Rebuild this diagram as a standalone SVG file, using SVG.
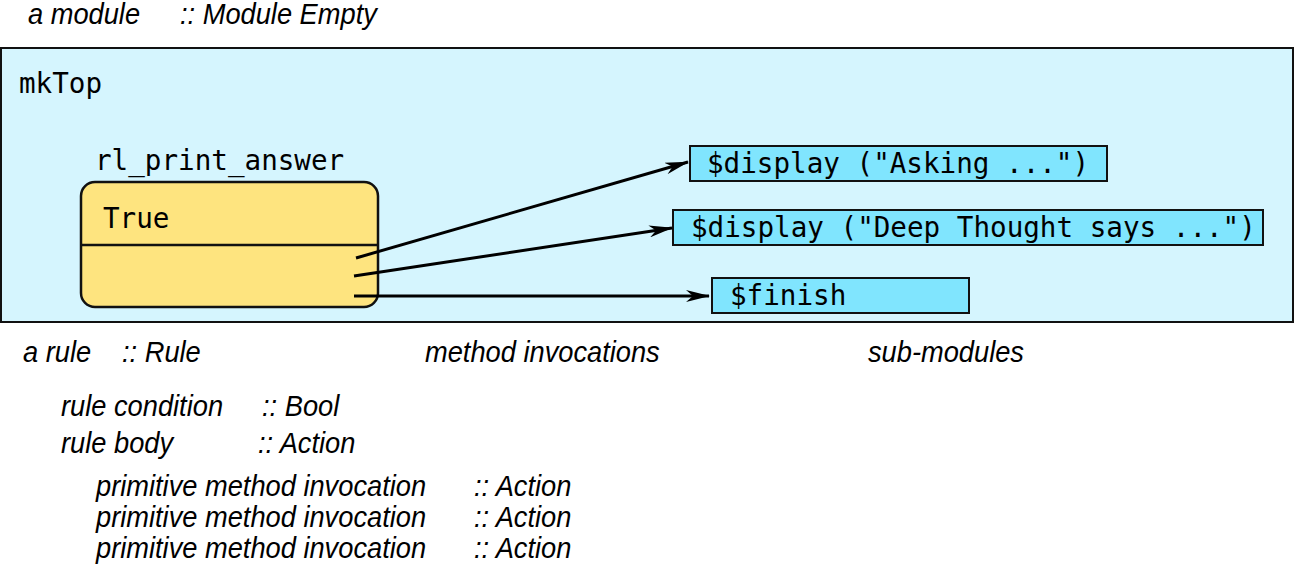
<svg xmlns="http://www.w3.org/2000/svg" width="1294" height="566" viewBox="0 0 1294 566">
<style>
.lbl{font-family:"Liberation Sans",Arial,sans-serif;font-style:italic;font-size:29px;fill:#000}
.mono{font-family:"DejaVu Sans Mono","Liberation Mono",monospace;font-size:27.6px;fill:#000}
.meth{fill:#80e5fe;stroke:#111;stroke-width:2}
.conn{stroke:#000;stroke-width:3;fill:none}
</style>
<defs>
<marker id="ah" viewBox="0 0 24 12" refX="23" refY="6" markerWidth="24" markerHeight="12" markerUnits="userSpaceOnUse" orient="auto">
<path d="M0,0 L24,6 L0,12 L7,6 Z" fill="#000"/>
</marker>
</defs>
<rect width="1294" height="566" fill="#fff"/>
<g id="module">
<rect x="1" y="48" width="1292" height="274" fill="#d5f5fe" stroke="#111" stroke-width="2"/>
<text class="mono" x="19" y="93">mkTop</text>
</g>
<g id="rule">
<text class="mono" x="95" y="170">rl_print_answer</text>
<rect x="81" y="182" width="297" height="125" rx="14" fill="#fee47f" stroke="#111" stroke-width="2.5"/>
<line x1="81" y1="245" x2="378" y2="245" stroke="#111" stroke-width="2.5"/>
<text class="mono" x="103" y="228">True</text>
</g>
<g id="m1">
<rect class="meth" x="690" y="146" width="417" height="35"/>
<text class="mono" x="707" y="173">$display ("Asking ...")</text>
</g>
<g id="m2">
<rect class="meth" x="673" y="210" width="590" height="35"/>
<text class="mono" x="691" y="237">$display ("Deep Thought says ...")</text>
</g>
<g id="m3">
<rect class="meth" x="712" y="278" width="257" height="35"/>
<text class="mono" x="730" y="305">$finish</text>
</g>
<g id="connectors">
<line class="conn" x1="356" y1="258" x2="688" y2="162" marker-end="url(#ah)"/>
<line class="conn" x1="354" y1="276" x2="672" y2="228" marker-end="url(#ah)"/>
<line class="conn" x1="354" y1="296" x2="709" y2="296" marker-end="url(#ah)"/>
</g>
<g id="labels">
<text class="lbl" transform="translate(28 24) scale(0.94 1)">a module</text>
<text class="lbl" transform="translate(180 24) scale(0.94 1)">:: Module Empty</text>
<text class="lbl" transform="translate(23 362) scale(0.94 1)">a rule</text>
<text class="lbl" transform="translate(122 362) scale(0.94 1)">:: Rule</text>
<text class="lbl" transform="translate(425 362) scale(0.94 1)">method invocations</text>
<text class="lbl" transform="translate(868 362) scale(0.94 1)">sub-modules</text>
<text class="lbl" transform="translate(61 416) scale(0.94 1)">rule condition</text>
<text class="lbl" transform="translate(262 416) scale(0.94 1)">:: Bool</text>
<text class="lbl" transform="translate(61 453) scale(0.94 1)">rule body</text>
<text class="lbl" transform="translate(258 453) scale(0.94 1)">:: Action</text>
<text class="lbl" transform="translate(96 496) scale(0.94 1)">primitive method invocation</text>
<text class="lbl" transform="translate(474 496) scale(0.94 1)">:: Action</text>
<text class="lbl" transform="translate(96 527) scale(0.94 1)">primitive method invocation</text>
<text class="lbl" transform="translate(474 527) scale(0.94 1)">:: Action</text>
<text class="lbl" transform="translate(96 558) scale(0.94 1)">primitive method invocation</text>
<text class="lbl" transform="translate(474 558) scale(0.94 1)">:: Action</text>
</g>
</svg>
